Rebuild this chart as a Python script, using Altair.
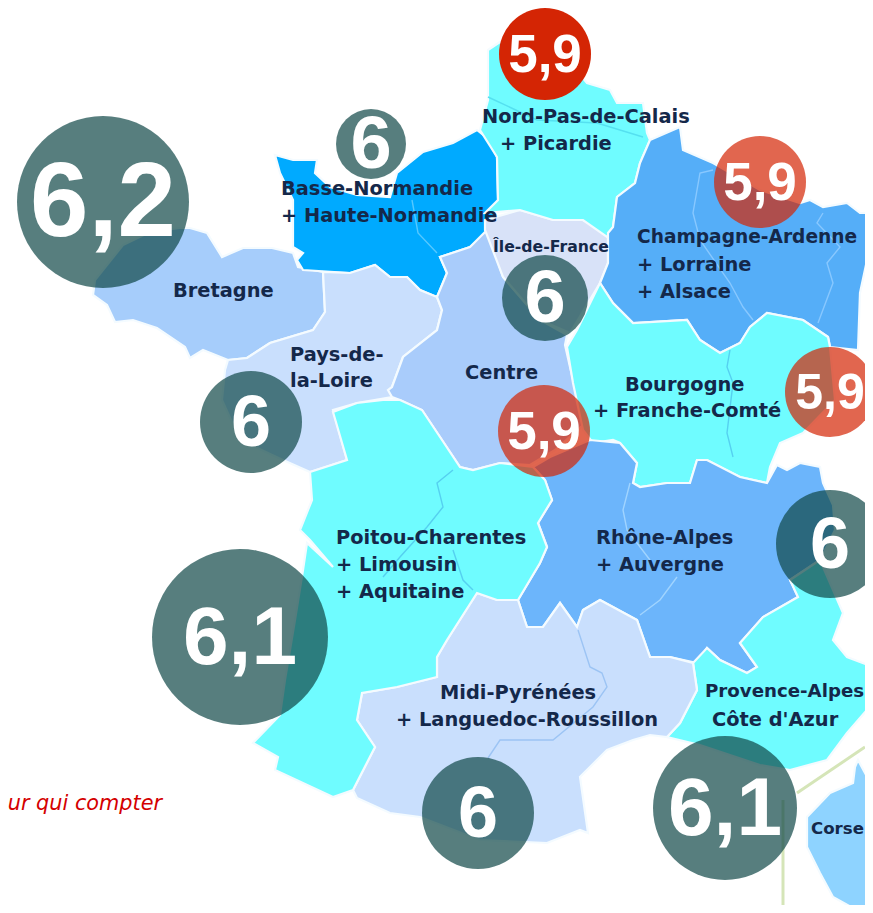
import altair as alt

W, H = 873, 913
OFF = 8
PLOT_W = 857
PLOT_H = 897

# ---- regions (image pixel coordinates) ----
region_names = ["Corse", "Bretagne", "Normandie", "Pays-de-la-Loire", "Centre", "Ile-de-France", "Nord",
                "Grand-Est", "Bourgogne", "Rhone-Alpes", "PACA", "Midi", "Poitou"]
region_fills = ["#8ed3ff", "#a6cdfb", "#00aaff", "#c9dffd", "#a9ccfb", "#d8e2f8", "#6ffcff",
                "#55aef8", "#6ffcff", "#6cb5fb", "#6ffcff", "#c9dffd", "#6ffcff"]
region_outlines = [
    [(858,760),(865,773),(873,787),(873,913),(862,913),(833,897),(820,873),(807,847),(807,817),(830,793),(853,783),(855,767)],
    [(93,295),(95,280),(123,245),(150,232),(180,228),(190,228),(207,233),(222,257),(243,248),(272,248),(293,253),(298,267),(323,272),(325,312),(313,330),(270,343),(247,358),(228,360),(203,350),(190,358),(185,347),(157,328),(133,320),(115,322),(107,305)],
    [(275,155),(293,160),(317,160),(315,173),(330,187),(357,195),(390,197),(397,173),(423,152),(453,143),(477,130),(487,138),(497,157),(498,200),(490,230),(470,247),(440,257),(447,273),(437,297),(420,290),(407,277),(390,277),(375,265),(350,273),(303,270),(297,260),(303,253),(293,247),(293,200),(280,173)],
    [(323,272),(350,273),(375,265),(390,277),(407,277),(420,290),(437,297),(442,310),(437,330),(403,357),(392,387),(392,397),(357,403),(333,410),(347,460),(310,472),(283,460),(240,440),(222,400),(225,370),(228,360),(247,358),(270,343),(313,330),(325,312)],
    [(440,257),(470,247),(487,230),(503,277),(540,320),(567,335),(565,345),(570,367),(578,400),(583,425),(555,450),(530,465),(500,463),(473,470),(460,467),(440,437),(422,410),(400,400),(392,397),(388,390),(392,387),(403,357),(437,330),(442,310),(437,297),(447,273)],
    [(485,220),(520,210),(553,220),(583,220),(608,233),(608,263),(600,283),(570,333),(540,320),(503,277),(485,230)],
    [(488,50),(500,42),(560,50),(587,83),(610,90),(617,103),(643,103),(647,133),(650,140),(640,163),(635,183),(617,197),(613,227),(607,237),(583,220),(553,220),(520,210),(485,213),(498,200),(497,157),(480,130),(488,100)],
    [(650,140),(673,130),(680,127),(683,150),(713,163),(760,190),(800,203),(810,200),(823,207),(847,203),(860,213),(873,213),(873,230),(867,260),(860,293),(858,350),(830,347),(828,337),(803,320),(767,313),(750,327),(740,343),(720,353),(700,340),(687,320),(633,323),(613,303),(600,283),(608,263),(608,233),(613,227),(617,197),(635,183),(640,163)],
    [(577,330),(600,283),(613,303),(633,323),(687,320),(700,340),(720,353),(740,343),(750,327),(767,313),(803,320),(828,337),(830,347),(835,400),(803,433),(780,443),(770,467),(767,483),(740,477),(707,460),(697,460),(690,483),(667,483),(640,487),(633,483),(637,463),(620,443),(613,440),(593,443),(583,430),(573,383),(567,347)],
    [(550,457),(590,440),(620,443),(637,463),(633,483),(640,487),(667,483),(690,483),(697,460),(707,460),(740,477),(767,483),(777,465),(787,470),(800,463),(820,467),(823,483),(833,505),(835,530),(820,560),(790,580),(798,597),(763,617),(740,643),(757,667),(747,673),(720,660),(707,648),(697,663),(670,657),(650,657),(637,620),(600,600),(583,610),(577,627),(560,603),(543,627),(527,627),(518,600),(540,563),(547,547),(538,523),(552,500),(545,480),(533,467)],
    [(693,663),(707,648),(720,660),(747,673),(757,667),(740,643),(763,617),(798,597),(790,580),(820,560),(843,613),(833,640),(847,657),(873,667),(873,703),(847,733),(827,760),(790,770),(760,765),(700,745),(667,737),(680,723),(697,690)],
    [(362,693),(357,720),(375,747),(353,790),(357,798),(390,813),(420,817),(480,840),(547,843),(580,830),(588,833),(580,777),(607,750),(633,740),(650,735),(667,737),(680,723),(697,690),(693,663),(670,657),(650,657),(637,620),(600,600),(583,610),(577,627),(560,603),(543,627),(527,627),(518,600),(497,600),(477,593),(447,640),(437,657),(437,677),(397,687)],
    [(333,412),(347,460),(310,472),(312,500),(300,530),(310,540),(333,567),(307,543),(303,570),(295,620),(285,680),(280,715),(253,743),(278,757),(275,770),(333,797),(353,790),(375,747),(357,720),(362,693),(397,687),(437,677),(437,657),(447,640),(477,593),(497,600),(518,600),(540,563),(547,547),(538,523),(552,500),(545,480),(533,467),(500,463),(473,470),(460,467),(440,437),(422,410),(400,400),(383,400),(357,403)],
]

# ---- thin inner borders ----
inner_lines = [
    [(412,200),(418,233),(437,253)],
    [(488,97),(537,120),(597,123),(643,137)],
    [(730,350),(727,367),(733,383),(727,433),(733,457)],
    [(713,170),(700,173),(693,213),(700,240),(730,283),(743,307),(753,320)],
    [(823,213),(817,223),(840,247),(827,263),(833,283),(818,323)],
    [(630,483),(623,510),(627,530),(650,560)],
    [(453,470),(437,483),(443,507),(427,527),(400,557),(383,577)],
    [(453,550),(463,580),(473,590)],
    [(677,577),(660,600),(640,615)],
    [(578,630),(590,667),(602,673),(607,687),(593,707),(553,740),(500,740),(488,758)],
    [(783,800),(783,905)],
    [(865,747),(797,793)],
]
inner_cols = ["#55c8ff", "#55e0f0", "#55d0f0", "#88c8ff", "#88c8ff", "#a0d4ff", "#55d0f0", "#55d0f0", "#a0d4ff", "#9cc4f4", "#d5e5b8", "#d5e5b8"]
inner_w = [1.4] * 10 + [3, 3]

# ---- map labels ----
label_text = ["Nord-Pas-de-Calais", "+ Picardie", "Basse-Normandie", "+ Haute-Normandie", "Champagne-Ardenne",
              "+ Lorraine", "+ Alsace", "Bretagne", "Pays-de-", "la-Loire", "Centre", "Bourgogne",
              "+ Franche-Comté", "Poitou-Charentes", "+ Limousin", "+ Aquitaine", "Rhône-Alpes", "+ Auvergne",
              "Midi-Pyrénées", "+ Languedoc-Roussillon", "Provence-Alpes", "Côte d'Azur", "Corse", "Île-de-France"]
label_x = [482, 500, 281, 281, 637, 637, 637, 173, 290, 290, 465, 625, 593, 336, 336, 336, 596, 596, 440, 396, 705, 712, 811, 493]
label_y = [117, 144, 189, 216, 237, 265, 292, 291, 355, 381, 373, 385, 411, 538, 565, 592, 538, 565, 693, 720, 692, 720, 829, 247]
label_fs = [19.4] * 4 + [18.6] + [19.4] * 15 + [18.2, 19.4, 16.6, 15.7]

# ---- bubbles ----
bubble_text = ["6,2", "6", "5,9", "5,9", "6", "5,9", "5,9", "6", "6", "6,1", "6", "6,1"]
bubble_x = [103, 371, 545, 760, 545, 830, 544, 251, 830, 240, 478, 725]
bubble_y = [202, 144, 54, 182, 298, 392, 431, 422, 544, 637, 813, 808]
bubble_r = [86, 35, 46, 46, 43, 45, 46, 51, 54, 88, 56, 72]
bubble_col = ["#104747", "#104747", "#d42504", "#d42504", "#104747", "#d42504", "#d42504", "#104747", "#104747", "#104747", "#104747", "#104747"]
bubble_op = [0.7, 0.7, 1.0, 0.7, 0.7, 0.7, 0.7, 0.7, 0.7, 0.7, 0.7, 0.7]
bubble_fs = [105, 74, 53, 53, 74, 50, 53, 72, 72, 82, 72, 82]

note_text = ["ur qui compter"]
note_x = [162]
note_y = [804]

x_scale = alt.Scale(domain=[OFF, OFF + PLOT_W], nice=False, zero=False)
y_scale = alt.Scale(domain=[OFF + PLOT_H, OFF], nice=False, zero=False)
X = lambda: alt.X("x:Q", scale=x_scale, axis=None)
Y = lambda: alt.Y("y:Q", scale=y_scale, axis=None)

features = [
    {"type": "Feature", "properties": {"name": n, "fill": c},
     "geometry": {"type": "Polygon", "coordinates": [[list(p) for p in (pts + [pts[0]])]]}}
    for n, c, pts in zip(region_names, region_fills, region_outlines)
]

regions = alt.Chart(alt.Data(values=features)).mark_geoshape(stroke="#f4fbff", strokeWidth=2.2).encode(
    fill=alt.Fill("properties.fill:N", scale=None)
).project(type="identity", scale=1, translate=[-OFF, -OFF])

line_rows = []
for i, (pts, col, w) in enumerate(zip(inner_lines, inner_cols, inner_w)):
    for j, (px, py) in enumerate(pts):
        line_rows.append({"id": i, "o": j, "x": px, "y": py, "c": col, "w": w})

lines = alt.Chart(alt.Data(values=line_rows)).mark_line(clip=True).encode(
    x=X(), y=Y(), detail="id:N", order="o:Q",
    color=alt.Color("c:N", scale=None), strokeWidth=alt.StrokeWidth("w:Q", scale=None),
)

label_rows = [{"t": t, "x": a, "y": b, "fs": f} for t, a, b, f in zip(label_text, label_x, label_y, label_fs)]
labels = alt.Chart(alt.Data(values=label_rows)).mark_text(
    align="left", baseline="middle", font="DejaVu Sans", fontWeight="bold", color="#14284a"
).encode(x=X(), y=Y(), text="t:N", size=alt.Size("fs:Q", scale=None))

bubble_rows = [
    {"t": t, "x": a, "y": b, "area": 4 * r * r, "c": c, "op": o, "fs": f}
    for t, a, b, r, c, o, f in zip(bubble_text, bubble_x, bubble_y, bubble_r, bubble_col, bubble_op, bubble_fs)
]
bubbles = alt.Chart(alt.Data(values=bubble_rows)).mark_circle().encode(
    x=X(), y=Y(),
    size=alt.Size("area:Q", scale=None),
    color=alt.Color("c:N", scale=None),
    opacity=alt.Opacity("op:Q", scale=None),
)
bubble_labels = alt.Chart(alt.Data(values=bubble_rows)).mark_text(
    align="center", baseline="middle", font="Liberation Sans", fontWeight="bold", color="white", dy=2
).encode(x=X(), y=Y(), text="t:N", size=alt.Size("fs:Q", scale=None))

note = alt.Chart(alt.Data(values=[{"t": t, "x": a, "y": b} for t, a, b in zip(note_text, note_x, note_y)])).mark_text(
    align="right", baseline="middle", font="DejaVu Sans", fontStyle="italic", fontSize=20.8, color="#d40000"
).encode(x=X(), y=Y(), text="t:N")

chart = alt.layer(regions, lines, labels, note, bubbles, bubble_labels).properties(
    width=PLOT_W, height=PLOT_H, padding=0, autosize=alt.AutoSizeParams(type="none"),
    background="white",
).configure_view(stroke=None)

chart.save("out.html", embed_options={"renderer": "svg", "actions": False})
